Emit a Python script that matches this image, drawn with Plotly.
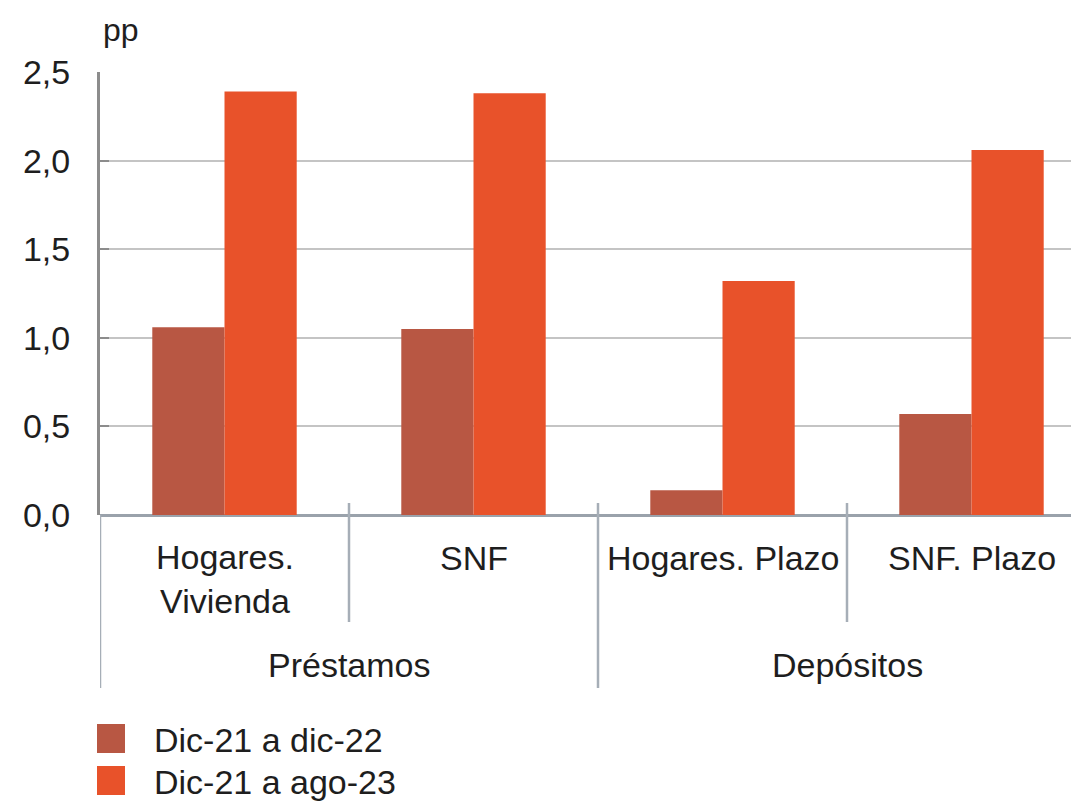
import plotly.graph_objects as go

# ---- data ----
categories = ["Hogares.<br>Vivienda", "SNF", "Hogares. Plazo", "SNF. Plazo"]
groups = ["Préstamos", "Depósitos"]
group_sizes = [2, 2]
series_names = ["Dic-21 a dic-22", "Dic-21 a ago-23"]
dic22 = [1.06, 1.05, 0.14, 0.57]
ago23 = [2.39, 2.38, 1.32, 2.06]
colors = ["#B85743", "#E8522A"]
y_ticks = [0, 0.5, 1.0, 1.5, 2.0, 2.5]

FONT = "Liberation Sans, Arial, Helvetica, sans-serif"
TXT = "#1e1e1e"
FS = 34

OFF = 8  # page body margin in the browser
W, H = 1079 - OFF, 805 - OFF
PLOT_L, PLOT_T, PLOT_B, PLOT_R = 100, 72, 515, 1079  # in page pixels
ML, MT = PLOT_L - OFF, PLOT_T - OFF
MB = H - (PLOT_B - OFF)
MR = 0
PH = PLOT_B - PLOT_T
PW = PLOT_R - PLOT_L


def py(pix):
    """page pixel row -> paper y"""
    return (PLOT_B - pix) / PH


def px(pix):
    return (pix - PLOT_L) / PW


xs = list(range(len(categories)))
fig = go.Figure()
for name, vals, col in zip(series_names, [dic22, ago23], colors):
    fig.add_trace(go.Bar(x=xs, y=vals, name=name, marker=dict(color=col, line=dict(width=0)),
                         showlegend=False))

fig.update_layout(
    width=W, height=H,
    margin=dict(l=ML, r=MR, t=MT, b=MB, pad=0),
    plot_bgcolor="white", paper_bgcolor="white",
    barmode="group", bargap=0.42, bargroupgap=0,
    separators=",.",
    font=dict(family=FONT, size=FS, color=TXT),
)
fig.update_xaxes(range=[-0.5, -0.5 + PW / 249.0], showticklabels=False, showgrid=False,
                 zeroline=False, showline=False, ticks="")
fig.update_yaxes(range=[0, 2.5], tickvals=y_ticks, tickformat=".1f",
                 showgrid=True, gridcolor="#c4c4c4", gridwidth=1.5,
                 zeroline=True, zerolinecolor="#9aa2ab", zerolinewidth=3,
                 showline=True, linecolor="#8c8c8c", linewidth=3,
                 ticks="inside", ticklen=9, tickwidth=2, tickcolor="#8c8c8c",
                 ticklabelstandoff=20,
                 tickfont=dict(family=FONT, size=FS, color=TXT))

annotations = []
shapes = []
div_col = "#a6aeb7"
start = 0
bounds = []
for g in group_sizes:
    bounds.append(start)
    start += g
for i in range(1, len(categories)):
    outer = i in bounds
    shapes.append(dict(type="line", xref="x", yref="paper", x0=i - 0.5, x1=i - 0.5,
                       y0=py(503), y1=py(688 if outer else 622),
                       line=dict(color=div_col, width=2.5)))
shapes.append(dict(type="line", xref="x", yref="paper", x0=-0.5, x1=-0.5,
                   y0=py(515), y1=py(688), line=dict(color=div_col, width=2.5)))

for i, c in enumerate(categories):
    yc = py(579) if "<br>" in c else py(558)
    annotations.append(dict(x=i, y=yc, xref="x", yref="paper", text=c, showarrow=False,
                            xanchor="center", yanchor="middle",
                            font=dict(family=FONT, size=FS, color=TXT)))
start = 0
for g, n in zip(groups, group_sizes):
    annotations.append(dict(x=start + (n - 1) / 2, y=py(665), xref="x", yref="paper", text=g,
                            showarrow=False, xanchor="center", yanchor="middle",
                            font=dict(family=FONT, size=FS, color=TXT)))
    start += n

annotations.append(dict(x=px(101), y=py(30), xref="paper", yref="paper", text="pp",
                        showarrow=False, xanchor="left", yanchor="middle",
                        font=dict(family=FONT, size=FS - 2, color=TXT)))

for k, (name, col) in enumerate(zip(series_names, colors)):
    top = 724 + k * 42
    shapes.append(dict(type="rect", xref="paper", yref="paper", x0=px(97), x1=px(125),
                       y0=py(top), y1=py(top + 29), fillcolor=col, line=dict(width=0)))
    annotations.append(dict(x=px(152), y=py(top + 16), xref="paper", yref="paper", text=name,
                            showarrow=False, xanchor="left", yanchor="middle",
                            font=dict(family=FONT, size=FS, color=TXT)))

fig.update_layout(shapes=shapes, annotations=annotations)
fig.write_html("out.html")
